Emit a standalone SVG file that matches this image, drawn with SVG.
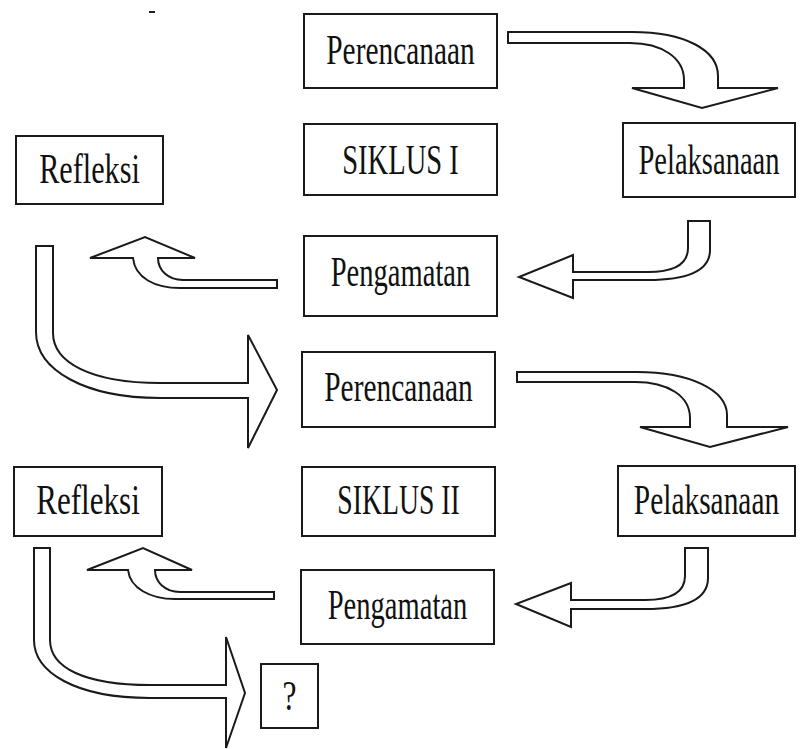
<svg xmlns="http://www.w3.org/2000/svg" width="800" height="749" viewBox="0 0 800 749">
<style>
.box{fill:#fff;stroke:#1a1a1a;stroke-width:2}
.lbl{font-family:"Liberation Serif","Times New Roman",serif;font-size:42px;fill:#111;text-anchor:middle}
.arr{fill:#fff;stroke:#1a1a1a;stroke-width:2;stroke-linejoin:miter}
</style>
<rect width="800" height="749" fill="#fff"/>
<line x1="149" y1="12" x2="155" y2="12" stroke="#222" stroke-width="2"/>
<g id="connectors">
<path id="c1" class="arr" d="M508,32 L632,32 C685,32 718,50 718,76 L718,88 L778,88 L702,108 L632,88 L684,88 L684,80 C684,58 662,43 630,43 L508,43 Z"/>
<path id="c2" class="arr" d="M573,272 L648,272 C675,272 688,264 688,248 L688,221 L710,221 L710,250 C710,270 690,280 648,280 L573,280 L573,298 L519,277 L573,255 Z"/>
<path id="c3" class="arr" d="M277,280 L183,280 C168,280 158,270 158,258 L195,258 L145,237 L90,258 L133,258 C135,278 155,288 180,288 L277,288 Z"/>
<path id="c4" class="arr" d="M36,246 L53,246 L53,333 C53,362 90,383 160,383 L248,383 L248,335 L277,390 L248,448 L248,398 L160,398 C85,398 36,370 36,332 Z"/>
<path id="c5" class="arr" d="M517,372 L637,372 C690,372 727,390 727,415 L727,427 L788,427 L710,447 L640,427 L690,427 L690,418 C690,396 668,382 635,382 L517,382 Z"/>
<path id="c6" class="arr" d="M571,600 L645,600 C672,600 685,592 685,576 L685,548 L708,548 L708,578 C708,598 688,609 645,609 L571,609 L571,627 L516,604 L571,583 Z"/>
<path id="c7" class="arr" d="M274,592 L180,592 C165,592 155,582 155,570 L192,570 L143,548 L87,570 L128,570 C130,588 150,599 175,599 L274,599 Z"/>
<path id="c8" class="arr" d="M34,548 L50,548 L50,640 C50,668 85,685 150,685 L226,685 L226,637 L245,693 L226,748 L226,698 L150,698 C75,698 34,672 34,640 Z"/>
</g>
<g id="perencanaan1"><rect class="box" x="304" y="14" width="193" height="74"/><text class="lbl" transform="translate(400.5,64) scale(0.7,1)">Perencanaan</text></g>
<g id="siklus1"><rect class="box" x="304" y="124" width="193" height="71"/><text class="lbl" transform="translate(400.5,174) scale(0.68,1)">SIKLUS I</text></g>
<g id="pelaksanaan1"><rect class="box" x="623" y="123" width="172" height="74"/><text class="lbl" transform="translate(709,174) scale(0.68,1)">Pelaksanaan</text></g>
<g id="refleksi1"><rect class="box" x="16" y="136" width="147" height="68"/><text class="lbl" transform="translate(89.5,183) scale(0.72,1)">Refleksi</text></g>
<g id="pengamatan1"><rect class="box" x="304" y="236" width="193" height="80"/><text class="lbl" transform="translate(400.5,286) scale(0.68,1)">Pengamatan</text></g>
<g id="perencanaan2"><rect class="box" x="302" y="352" width="193" height="75"/><text class="lbl" transform="translate(398.5,401) scale(0.7,1)">Perencanaan</text></g>
<g id="siklus2"><rect class="box" x="302" y="467" width="193" height="69"/><text class="lbl" transform="translate(398.5,514) scale(0.66,1)">SIKLUS II</text></g>
<g id="pelaksanaan2"><rect class="box" x="618" y="466" width="177" height="70"/><text class="lbl" transform="translate(706.5,514) scale(0.7,1)">Pelaksanaan</text></g>
<g id="refleksi2"><rect class="box" x="14" y="467" width="148" height="69"/><text class="lbl" transform="translate(88,514) scale(0.74,1)">Refleksi</text></g>
<g id="pengamatan2"><rect class="box" x="301" y="570" width="193" height="74"/><text class="lbl" transform="translate(397.5,619) scale(0.68,1)">Pengamatan</text></g>
<g id="tanya"><rect class="box" x="261" y="664" width="57" height="64"/><text class="lbl" transform="translate(289.5,710) scale(0.75,1)" font-size="34">?</text></g>
</svg>
